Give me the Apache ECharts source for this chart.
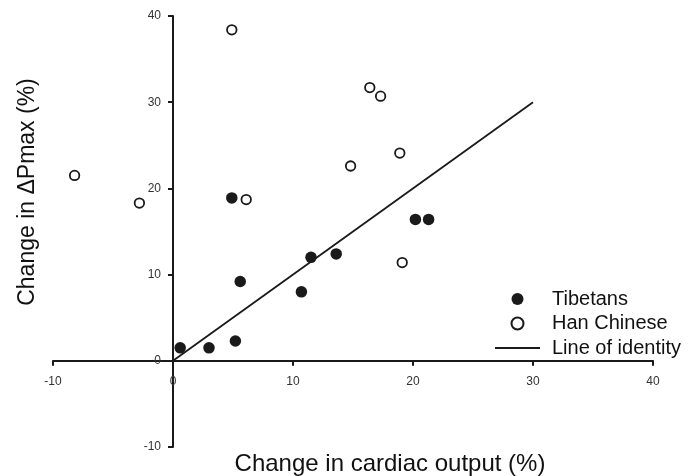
<!DOCTYPE html>
<html>
<head>
<meta charset="utf-8">
<script src="https://cdn.jsdelivr.net/npm/echarts@6/dist/echarts.min.js"></script>
<style>
  html, body { margin: 0; padding: 0; background: #fff; }
  #chart { width: 698px; height: 476px; }
</style>
</head>
<body>
<div id="chart"></div>
<script>
// values
var tibetanX = [0.6, 3.0, 5.2, 5.6, 10.7, 11.5, 13.6, 20.2, 21.3, 4.9];
var tibetanY = [1.5, 1.5, 2.3, 9.2, 8.0, 12.0, 12.4, 16.4, 16.4, 18.9];
var hanX = [4.9, -8.2, -2.8, 6.1, 14.8, 16.4, 17.3, 18.9, 19.1];
var hanY = [38.4, 21.5, 18.3, 18.7, 22.6, 31.7, 30.7, 24.1, 11.4];
var identityX = [0, 30];
var identityY = [0, 30];
var axisTicks = [-10, 0, 10, 20, 30, 40];

var FONT = '"Liberation Sans", Arial, sans-serif';
var INK = '#1a1a1a';

// plot box in pixels
var GRID = { left: 53, right: 45, top: 16, bottom: 29 };
var W = 698, H = 476;

function pairs(xs, ys) {
  return xs.map(function (x, i) { return [x, ys[i]]; });
}

function valueAxis() {
  return {
    type: 'value',
    min: axisTicks[0],
    max: axisTicks[axisTicks.length - 1],
    interval: 10,
    axisLine: { show: true, onZero: false, lineStyle: { color: INK, width: 2 } },
    axisTick: { show: true, length: 5, lineStyle: { color: INK, width: 2 } },
    splitLine: { show: false },
    axisLabel: { color: '#333', fontSize: 12, fontFamily: FONT }
  };
}

// the axes cross at zero, so shift each one in from the grid edge
var span = axisTicks[axisTicks.length - 1] - axisTicks[0];
var plotW = W - GRID.left - GRID.right;
var plotH = H - GRID.top - GRID.bottom;

var xAxis = valueAxis();
xAxis.position = 'bottom';
xAxis.offset = -plotH * (0 - axisTicks[0]) / span;
xAxis.axisLabel.margin = 15;

var yAxis = valueAxis();
yAxis.position = 'left';
yAxis.offset = -plotW * (0 - axisTicks[0]) / span;
yAxis.axisLabel.margin = 12;

var chart = echarts.init(document.getElementById('chart'));

var option = {
  animation: false,
  backgroundColor: '#fff',
  grid: { left: GRID.left, right: GRID.right, top: GRID.top, bottom: GRID.bottom, containLabel: false },
  xAxis: xAxis,
  yAxis: yAxis,
  legend: {
    orient: 'vertical',
    left: 489,
    top: 284,
    itemWidth: 45,
    itemHeight: 12,
    itemGap: 4.5,
    textStyle: { color: '#111', fontSize: 20, fontFamily: FONT, padding: [0, 0, 0, 7] },
    data: [
      'Tibetans',
      'Han Chinese',
      { name: 'Line of identity', itemStyle: { opacity: 0 } }
    ]
  },
  graphic: [
    {
      type: 'text',
      x: 390,
      y: 464,
      style: {
        text: 'Change in cardiac output (%)',
        font: '24px ' + FONT,
        fill: '#111',
        textAlign: 'center',
        textVerticalAlign: 'middle'
      }
    },
    {
      type: 'text',
      x: 28,
      y: 192,
      rotation: Math.PI / 2,
      style: {
        text: 'Change in \u0394Pmax (%)',
        font: '23px ' + FONT,
        fill: '#111',
        textAlign: 'center',
        textVerticalAlign: 'middle'
      }
    }
  ],
  series: [
    {
      name: 'Tibetans',
      type: 'scatter',
      symbol: 'circle',
      symbolSize: 11.5,
      itemStyle: { color: INK, opacity: 1 },
      data: pairs(tibetanX, tibetanY)
    },
    {
      name: 'Han Chinese',
      type: 'scatter',
      symbol: 'circle',
      symbolSize: 9.5,
      itemStyle: { color: '#fff', borderColor: INK, borderWidth: 1.8, opacity: 1 },
      data: pairs(hanX, hanY)
    },
    {
      name: 'Line of identity',
      type: 'line',
      symbol: 'none',
      lineStyle: { color: INK, width: 1.8 },
      data: pairs(identityX, identityY)
    }
  ]
};

chart.setOption(option);
</script>
</body>
</html>
